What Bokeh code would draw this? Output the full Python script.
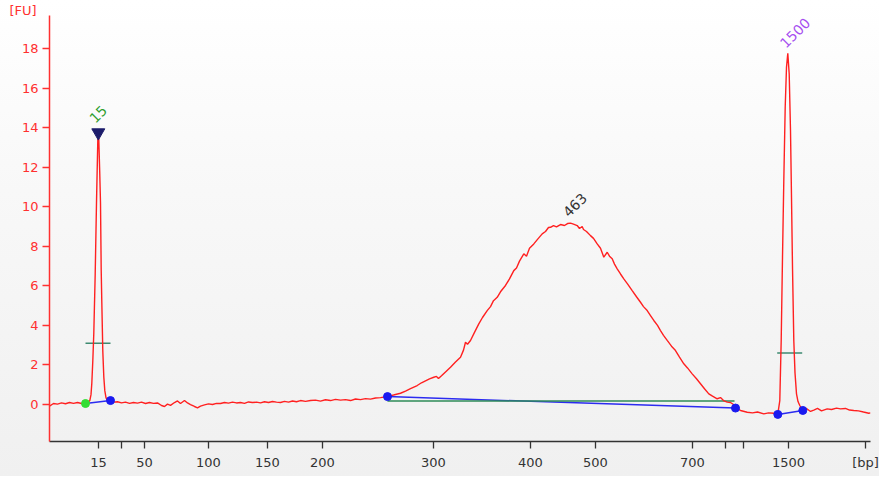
from bokeh.plotting import figure
from bokeh.models import Range1d, FixedTicker, Label
from bokeh.embed import file_html
from bokeh.resources import INLINE

# ---- data (migration position units, fluorescence FU) ----
trace_x = [49, 53, 57, 61, 65, 69, 73, 77, 81, 85, 88, 89.3, 90.5, 91.3, 92.3, 93.3, 94.7, 96, 97.3, 97.8,
           98.3, 99.2, 100, 100.7, 101.3, 102.3, 103.3, 104.3, 105.5, 106.7, 108, 110, 113, 117, 121, 125,
           129, 133, 137, 141, 145, 149, 153, 157, 161, 164, 167, 170, 174, 177, 180, 184, 187, 190, 194,
           197, 200, 204, 208, 212, 216, 220, 224, 228, 232, 236, 240, 244, 248, 252, 256, 260, 264, 268,
           272, 276, 280, 284, 288, 292, 296, 300, 305, 310, 315, 320, 325, 330, 335, 340, 345, 350, 355,
           360, 365, 370, 375, 380, 386.7, 393, 400, 405, 410, 416.7, 421, 425, 429, 433.3, 436, 438, 441,
           445, 450, 455, 460, 463, 465, 467, 470, 474, 478.3, 482, 486.7, 490, 493, 496.7, 500, 505, 509,
           513.3, 516, 519, 523.3, 526, 529, 533.3, 537, 541.7, 545, 548, 550, 553, 556, 560, 564, 567, 570,
           573, 576.7, 579, 581.7, 583, 586, 590, 593, 596.7, 600, 603.3, 606.7, 609, 611.7, 614, 616.7,
           620, 623.3, 627, 631.7, 636, 640, 643, 646.7, 650, 653.3, 657, 660, 663, 666.7, 671, 675, 679,
           683.3, 687, 691.7, 696, 700, 704, 708.3, 712, 716.7, 720, 723, 726.7, 730, 733, 735, 740, 746.7,
           752, 757, 763.3, 768, 773.3, 777.3, 779.3, 780.7, 782, 783.3, 784.7, 786, 787.3, 788.7, 790, 791,
           792, 793.3, 794.5, 796, 797.5, 799.3, 802.3, 806, 810, 813.3, 817, 821, 826.7, 831, 836, 840,
           845, 849, 853.3, 858, 863, 868.3, 870]
trace_fu = [-0.08, 0.05, 0.02, 0.08, 0.04, 0.1, 0.06, 0.1, 0.05, 0.08, 0.12, 0.2, 0.5, 1.06, 2.2, 3.6, 6.6,
            10.2, 13.35, 13.7, 13.4, 11.8, 10.2, 6.8, 5.2, 2.7, 1.4, 0.7, 0.35, 0.22, 0.15, 0.2, 0.12, 0.14,
            0.08, 0.12, 0.06, 0.1, 0.07, 0.12, 0.05, 0.1, 0.06, 0.08, -0.05, -0.1, 0.02, -0.04, 0.1, 0.18,
            0.05, 0.2, 0.08, 0.0, -0.1, -0.17, -0.08, -0.02, 0.03, 0.0, 0.06, 0.05, 0.1, 0.07, 0.12, 0.08,
            0.1, 0.06, 0.13, 0.1, 0.12, 0.08, 0.14, 0.1, 0.15, 0.12, 0.1, 0.16, 0.12, 0.18, 0.14, 0.2, 0.16,
            0.2, 0.22, 0.17, 0.24, 0.2, 0.26, 0.22, 0.25, 0.2, 0.28, 0.25, 0.3, 0.27, 0.33, 0.35, 0.4, 0.48,
            0.57, 0.68, 0.8, 0.96, 1.1, 1.2, 1.3, 1.38, 1.42, 1.31, 1.45, 1.65, 1.89, 2.15, 2.39, 2.75, 3.15,
            3.05, 3.24, 3.65, 4.08, 4.4, 4.75, 4.95, 5.25, 5.42, 5.7, 6.02, 6.35, 6.77, 6.9, 7.25, 7.62, 7.5,
            7.9, 8.12, 8.35, 8.63, 8.75, 8.95, 8.96, 9.05, 8.98, 9.1, 9.05, 9.15, 9.17, 9.12, 9.05, 8.9, 9.0,
            8.85, 8.75, 8.54, 8.4, 8.12, 7.9, 7.45, 7.7, 7.5, 7.37, 7.1, 6.86, 6.6, 6.35, 6.1, 5.76, 5.45,
            5.17, 4.95, 4.75, 4.5, 4.25, 4.0, 3.74, 3.5, 3.24, 2.95, 2.73, 2.4, 2.06, 1.85, 1.55, 1.3, 1.05,
            0.8, 0.54, 0.42, 0.29, 0.35, 0.2, 0.12, 0.1, 0.0, -0.17, -0.3, -0.39, -0.42, -0.38, -0.47, -0.42,
            -0.44, -0.49, 0.2, 3.24, 7.45, 11.32, 15.03, 17.05, 17.76, 16.72, 13.85, 10.48, 6.94, 3.24, 1.6,
            0.54, 0.15, -0.05, -0.3, -0.2, -0.35, -0.28, -0.2, -0.32, -0.22, -0.25, -0.18, -0.22, -0.2,
            -0.28, -0.3, -0.32, -0.38, -0.44, -0.42]

x_tick_pos = [98, 121, 144, 208, 267, 322, 433, 530, 595, 692, 725, 743, 788, 865]
x_tick_labels = ["15", "", "50", "100", "150", "200", "300", "400", "500", "700", "", "", "1500", "[bp]"]
y_ticks = [0, 2, 4, 6, 8, 10, 12, 14, 16, 18]

# peak annotations
peak_names = ["15", "463", "1500"]
peak_label_x = [91.5, 565, 782]
peak_label_y = [14.36, 9.61, 18.15]
peak_colors = ["#2f9e2f", "#333333", "#a64ff0"]

# baseline / integration markers
green_dot_x, green_dot_y = [85], [0.05]
blue_dot_x = [110, 387, 735, 777.3, 802.3]
blue_dot_y = [0.2, 0.4, -0.18, -0.5, -0.3]
blue_seg_x0 = [85, 387, 777.3]
blue_seg_y0 = [0.05, 0.4, -0.5]
blue_seg_x1 = [110, 735, 802.3]
blue_seg_y1 = [0.2, -0.18, -0.3]
green_seg_x0, green_seg_x1, green_seg_y = [387], [734], [0.18]
half_x0 = [85, 776.7]
half_x1 = [110, 801.7]
half_y = [3.1, 2.6]
marker_x, marker_y = [97.8], [13.75]

FONT = "DejaVu Sans"
RED = "#ff3030"

p = figure(width=879, height=476, x_range=Range1d(49, 870), y_range=Range1d(-1.87, 19.67),
           output_backend="svg", toolbar_location=None,
           min_border_left=49, min_border_right=9, min_border_top=15, min_border_bottom=35)
p.background_fill_color = None
p.border_fill_color = None
p.outline_line_color = None
p.styles = {"background": "linear-gradient(to bottom, #ffffff 0%, #f8f8f8 40%, #f0f0f0 100%)"}
p.grid.visible = False

# [FU] as a left-aligned title in the top border
p.title.text = "[FU]"
p.title.text_color = RED
p.title.text_font = FONT
p.title.text_font_size = "13px"
p.title.text_font_style = "normal"
p.title.text_line_height = 1.0
p.title.align = "left"
p.title.offset = -40
p.title.standoff = -5

# axes
p.yaxis.ticker = FixedTicker(ticks=y_ticks, minor_ticks=[])
p.yaxis.axis_line_color = RED
p.yaxis.axis_line_width = 1.5
p.yaxis.major_tick_line_color = RED
p.yaxis.major_tick_line_width = 1.5
p.yaxis.major_tick_out = 7
p.yaxis.major_tick_in = 0
p.yaxis.major_label_text_color = RED
p.yaxis.major_label_text_font = FONT
p.yaxis.major_label_text_font_size = "13px"
p.yaxis.major_label_standoff = 4

p.xaxis.ticker = FixedTicker(ticks=x_tick_pos, minor_ticks=[])
p.xaxis.major_label_overrides = {t: l for t, l in zip(x_tick_pos, x_tick_labels)}
p.xaxis.axis_line_color = "#333333"
p.xaxis.axis_line_width = 1.3
p.xaxis.major_tick_line_color = "#333333"
p.xaxis.major_tick_line_width = 1.3
p.xaxis.major_tick_out = 7
p.xaxis.major_tick_in = 0
p.xaxis.major_label_text_color = "#333333"
p.xaxis.major_label_text_font = FONT
p.xaxis.major_label_text_font_size = "13px"
p.xaxis.major_label_standoff = 6

# baselines
p.segment(blue_seg_x0, blue_seg_y0, blue_seg_x1, blue_seg_y1, line_color="#2b2bf0", line_width=1.5)
p.segment(green_seg_x0, green_seg_y, green_seg_x1, green_seg_y, line_color="#2e8b57", line_width=1.5)
p.segment(half_x0, half_y, half_x1, half_y, line_color="#3d8a70", line_width=1.5)

# trace
p.line(trace_x, trace_fu, line_color="#ff2020", line_width=1.4)

# markers
p.scatter(green_dot_x, green_dot_y, marker="circle", size=8, fill_color="#33dd33", line_color="#33dd33")
p.scatter(blue_dot_x, blue_dot_y, marker="circle", size=8, fill_color="#1a1af0", line_color="#1a1af0")
p.scatter(marker_x, marker_y, marker="inverted_triangle", size=13, fill_color="#1c1c6b", line_color="#1c1c6b")

# peak labels
for name, lx, ly, c in zip(peak_names, peak_label_x, peak_label_y, peak_colors):
    p.add_layout(Label(x=lx, y=ly, text=name, angle=0.785398, text_color=c, text_font=FONT,
                       text_font_size="14px", text_align="left", text_baseline="alphabetic"))

open("out.html", "w").write(file_html(p, INLINE))
